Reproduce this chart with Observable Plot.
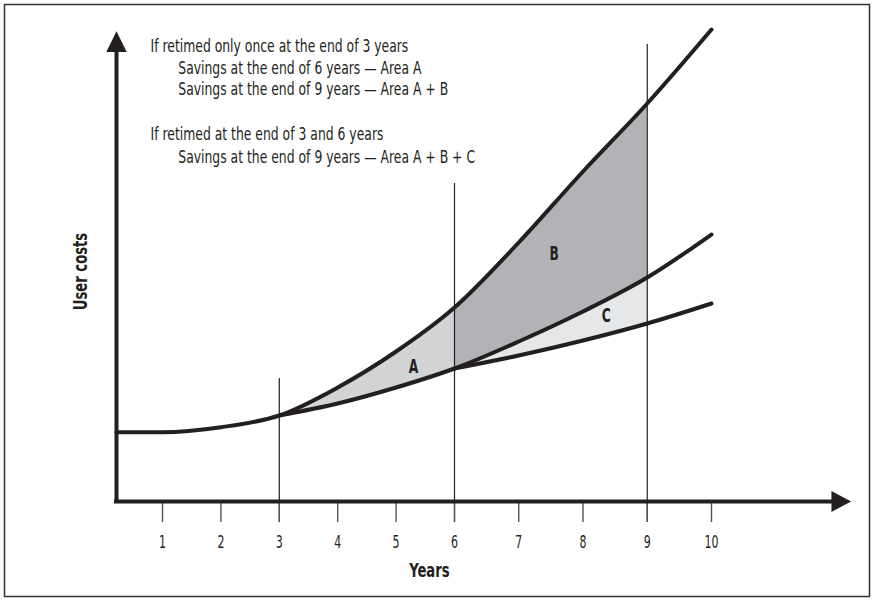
<!DOCTYPE html>
<html><head><meta charset="utf-8">
<script src="https://cdn.jsdelivr.net/npm/d3@7"></script>
<script src="https://cdn.jsdelivr.net/npm/@observablehq/plot@0.6"></script>
<style>
html,body{margin:0;padding:0;background:#fff;}
</style></head><body><div id="chart"></div>
<script>
// ---- data ----
const years = [0, 1, 2, 3, 4, 5, 6, 7, 8, 9, 10];
const costNoRetime = [6.93, 6.93, 7.43, 8.6, 11.4, 15.0, 19.4, 25.9, 33.0, 39.8, 47.2];
const yearsRetime3 = [3, 4, 5, 6, 7, 8, 9, 10];
const costRetime3 = [8.6, 9.8, 11.4, 13.3, 16.0, 19.0, 22.4, 26.7];
const yearsRetime36 = [6, 7, 8, 9, 10];
const costRetime36 = [13.3, 14.6, 16.1, 17.8, 19.8];

const tickYears = [1, 2, 3, 4, 5, 6, 7, 8, 9, 10];
const retimeYears = [3, 6, 9];
const retimeLineTops = [12.3, 31.8, 45.7];

const areaLabels = ["A", "B", "C"];
const areaLabelX = [5.30, 7.55, 8.36];
const areaLabelY = [13.5, 24.77, 18.6];

const noteLines = [
  "If retimed only once at the end of 3 years",
  "Savings at the end of 6 years \u2014 Area A",
  "Savings at the end of 9 years \u2014 Area A + B",
  "If retimed at the end of 3 and 6 years",
  "Savings at the end of 9 years \u2014 Area A + B + C"
];
const noteX = [0.74, 1.27, 1.27, 0.74, 1.27];
const noteY = [45.51, 43.35, 41.18, 36.68, 34.45];

const xTitle = "Years";
const yTitle = "User costs";

// ---- derived tables ----
const ink = "#231f20";
const font = "'DejaVu Sans Condensed', 'DejaVu Sans', sans-serif";
const curveTop = years.map((x, i) => ({x, y: costNoRetime[i]}));
const curveMid = yearsRetime3.map((x, i) => ({x, y: costRetime3[i]}));
const curveLow = yearsRetime36.map((x, i) => ({x, y: costRetime36[i]}));
const topAt = new Map(years.map((x, i) => [x, costNoRetime[i]]));
const midAt = new Map(yearsRetime3.map((x, i) => [x, costRetime3[i]]));
const lowAt = new Map(yearsRetime36.map((x, i) => [x, costRetime36[i]]));
const areaA = yearsRetime3.filter(x => x <= 6).map(x => ({x, y1: midAt.get(x), y2: topAt.get(x)}));
const areaB = yearsRetime3.filter(x => x >= 6 && x <= 9).map(x => ({x, y1: midAt.get(x), y2: topAt.get(x)}));
const areaC = yearsRetime36.filter(x => x <= 9).map(x => ({x, y1: lowAt.get(x), y2: midAt.get(x)}));

const arrowRight = {draw(ctx, size) { const k = Math.sqrt(size / Math.PI); ctx.moveTo(0, 0); ctx.lineTo(-1.9 * k, -k); ctx.lineTo(-1.9 * k, k); ctx.closePath(); }};
const arrowUp = {draw(ctx, size) { const k = Math.sqrt(size / Math.PI); ctx.moveTo(0, 0); ctx.lineTo(-k, 2.05 * k); ctx.lineTo(k, 2.05 * k); ctx.closePath(); }};

const chart = Plot.plot({
  width: 873,
  height: 600,
  marginTop: 4, marginRight: 4, marginBottom: 4, marginLeft: 4,
  x: {type: "linear", domain: [0, 1, 6, 10], range: [116, 162, 454, 711], axis: null},
  y: {type: "linear", domain: [0, 50], range: [501, 1], axis: null},
  style: {fontFamily: font, background: "#fff", color: ink},
  marks: [
    Plot.frame({stroke: "#333", strokeWidth: 1.5}),
    Plot.areaY(areaA, {x: "x", y1: "y1", y2: "y2", curve: "monotone-x", fill: "#d1d3d4"}),
    Plot.areaY(areaB, {x: "x", y1: "y1", y2: "y2", curve: "monotone-x", fill: "#b1b3b6"}),
    Plot.areaY(areaC, {x: "x", y1: "y1", y2: "y2", curve: "monotone-x", fill: "#e6e7e8"}),
    Plot.ruleX(retimeYears.map((x, i) => ({x, t: retimeLineTops[i]})), {x: "x", y1: -2.1, y2: "t", stroke: ink, strokeWidth: 1.2}),
    Plot.ruleX(tickYears, {x: d => d, y1: 0, y2: -2.1, stroke: "#555", strokeWidth: 1.4}),
    // axes
    Plot.ruleY([0], {x1: 0, x2: 11.87, stroke: ink, strokeWidth: 4, strokeLinecap: "square"}),
    Plot.ruleX([0], {y1: 0, y2: 44.9, stroke: ink, strokeWidth: 4, strokeLinecap: "square"}),
    Plot.dot([{x: 12.174, y: 0}], {x: "x", y: "y", symbol: arrowRight, r: 10.4, fill: ink, stroke: null}),
    Plot.dot([{x: 0, y: 47.03}], {x: "x", y: "y", symbol: arrowUp, r: 10.2, fill: ink, stroke: null}),
    // curves
    Plot.line(curveTop, {x: "x", y: "y", curve: "monotone-x", stroke: ink, strokeWidth: 4}),
    Plot.line(curveMid, {x: "x", y: "y", curve: "monotone-x", stroke: ink, strokeWidth: 4}),
    Plot.line(curveLow, {x: "x", y: "y", curve: "monotone-x", stroke: ink, strokeWidth: 4}),
    // tick labels
    Plot.text(tickYears, {x: d => d, y: -4.1, text: d => String(d), fontSize: 17, fill: ink}),
    // area labels
    Plot.text(areaLabels, {x: (d, i) => areaLabelX[i], y: (d, i) => areaLabelY[i], text: d => d, fontSize: 20, fontWeight: "bold", fill: ink}),
    // notes
    Plot.text(noteLines, {x: (d, i) => noteX[i], y: (d, i) => noteY[i], text: d => d, textAnchor: "start", fontSize: 18, fill: ink}),
    // titles
    Plot.text([xTitle], {x: 5.57, y: -6.97, text: d => d, fontSize: 19, fontWeight: "bold", fill: ink}),
    Plot.text([yTitle], {x: -0.78, y: 23.0, text: d => d, rotate: -90, fontSize: 19, fontWeight: "bold", fill: ink})
  ]
});
document.getElementById("chart").appendChild(chart);

// Condensed lettering: narrow each text run (the reference uses a condensed face)
const squeezeFor = s => noteLines.includes(s) ? 0.765
  : areaLabels.includes(s) ? 0.68
  : (s === xTitle || s === yTitle) ? 0.77
  : 0.72;
chart.querySelectorAll("text").forEach(t => {
  const w = t.getComputedTextLength();
  if (w > 0) {
    t.setAttribute("textLength", (w * squeezeFor(t.textContent)).toFixed(1));
    t.setAttribute("lengthAdjust", "spacingAndGlyphs");
  }
});
</script>
</body></html>
